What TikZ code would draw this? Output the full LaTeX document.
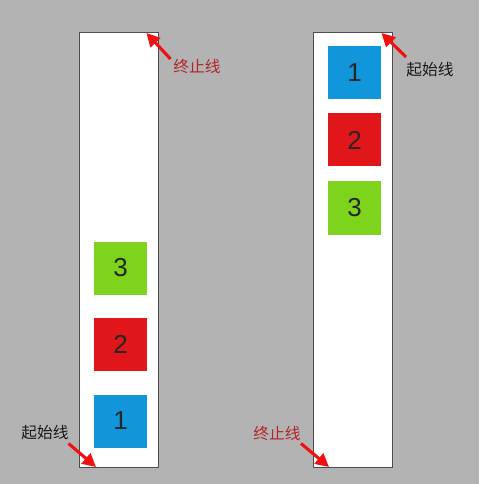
\documentclass[tikz,border=0pt]{standalone}
\usepackage{fontspec}
\setmainfont{Liberation Sans}
\newfontfamily\cjk{Noto Sans CJK SC}
\usetikzlibrary{arrows.meta}
\definecolor{bggray}{HTML}{B3B3B3}
\definecolor{boxblue}{HTML}{1296DB}
\definecolor{boxred}{HTML}{E0161A}
\definecolor{boxgreen}{HTML}{7ED31C}
\definecolor{labelred}{HTML}{B3252B}
\definecolor{arrowred}{HTML}{F01010}
\tikzset{
  column/.style={draw=black!70, line width=0.8pt, fill=white, minimum width=59pt, minimum height=326pt, inner sep=0pt},
  cell/.style={minimum size=39.75pt, inner sep=0pt, font=\fontsize{19.5}{20}\selectfont, text=black!85},
  tag/.style={font=\cjk\fontsize{11.8}{12}\selectfont},
  pointer/.style={draw=arrowred, line width=2.3pt, -{Triangle[length=10pt,width=10pt]}}
}
\begin{document}
\begin{tikzpicture}[x=0.75pt, y=-0.75pt]
  %bakgrunn
  \fill[bggray] (0,0) rectangle (479,484);
  \useasboundingbox (0,0) rectangle (479,484);

%Kolonner
    \node[column] (left) at (119.1, 249.9) {};
    \node[column] (right) at (353, 249.9) {};

%Ruter venstre
    \node[cell, fill=boxgreen] (L3) at (120.7, 268) {3};
    \node[cell, fill=boxred] (L2) at (120.7, 344) {2};
    \node[cell, fill=boxblue] (L1) at (120.7, 421) {1};

%Ruter hoyre
    \node[cell, fill=boxblue] (R1) at (354.5, 72.3) {1};
    \node[cell, fill=boxred] (R2) at (354.5, 140) {2};
    \node[cell, fill=boxgreen] (R3) at (354.5, 208) {3};

%Merkelapper
    \node[tag, text=labelred] (Lend) at (197, 66.5) {终止线};
    \node[tag, text=black!90] (Lstart) at (45, 432.5) {起始线};
    \node[tag, text=black!90] (Rstart) at (430, 70) {起始线};
    \node[tag, text=labelred] (Rend) at (277, 433) {终止线};

%Piler
    \coordinate (LendTail) at (170.5, 59);
    \coordinate (LendTip) at (146.5, 33);
    \coordinate (LstartTail) at (68.5, 443.5);
    \coordinate (LstartTip) at (96, 467);
    \coordinate (RstartTail) at (406, 57);
    \coordinate (RstartTip) at (381.5, 33);
    \coordinate (RendTail) at (301, 443.5);
    \coordinate (RendTip) at (329, 467);
    \draw[pointer] (LendTail) -- (LendTip);
    \draw[pointer] (LstartTail) -- (LstartTip);
    \draw[pointer] (RstartTail) -- (RstartTip);
    \draw[pointer] (RendTail) -- (RendTip);

\end{tikzpicture}
\end{document}
